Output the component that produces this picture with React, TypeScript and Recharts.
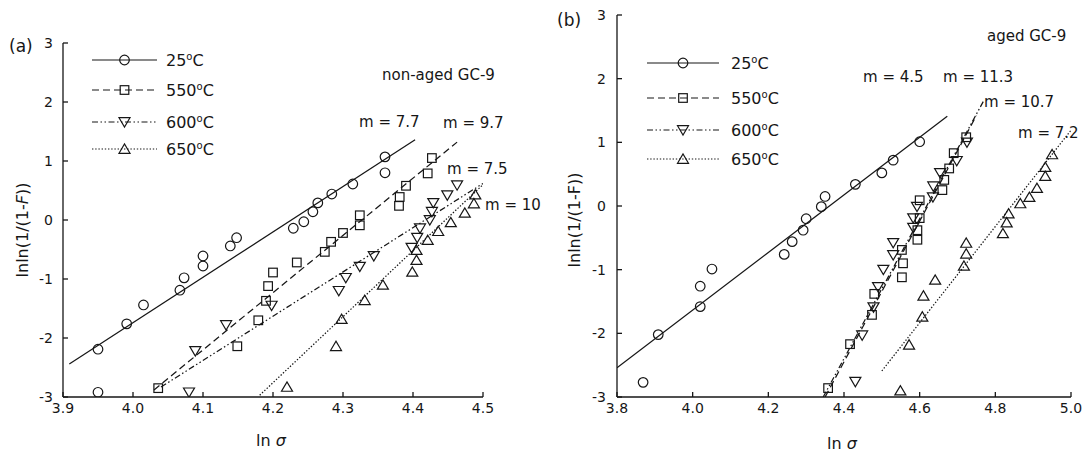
import React from "react";
import { ScatterChart, Scatter, XAxis, YAxis } from "recharts";

const INK = "#161616";
const FONT = "DejaVu Sans, Arial, sans-serif";

type P = [number, number];

/* ── tick values ─────────────────────────────────────────── */
const Y_TICKS = [-3, -2, -1, 0, 1, 2, 3];
const A_X_TICKS = [3.9, 4.0, 4.1, 4.2, 4.3, 4.4, 4.5];
const B_X_TICKS = [3.8, 4.0, 4.2, 4.4, 4.6, 4.8, 5.0];

/* ── (a) non-aged GC-9 : [ln sigma, lnln(1/(1-F))] ─────────── */
const A_25: P[] = [
  [3.95, -2.19], [3.95, -2.92], [3.991, -1.76], [4.015, -1.44], [4.067, -1.19], [4.073, -0.98],
  [4.1, -0.61], [4.1, -0.78], [4.139, -0.44], [4.148, -0.3], [4.229, -0.14], [4.244, -0.03],
  [4.257, 0.14], [4.264, 0.29], [4.284, 0.44], [4.314, 0.61], [4.36, 0.8], [4.36, 1.07],
];
const A_550: P[] = [
  [4.036, -2.85], [4.149, -2.14], [4.179, -1.7], [4.19, -1.37], [4.193, -1.12], [4.2, -0.89],
  [4.234, -0.72], [4.274, -0.54], [4.283, -0.37], [4.3, -0.22], [4.324, -0.09], [4.324, 0.08],
  [4.38, 0.24], [4.381, 0.39], [4.39, 0.58], [4.421, 0.79], [4.427, 1.05],
];
const A_600: P[] = [
  [4.08, -2.92], [4.089, -2.22], [4.133, -1.78], [4.198, -1.45], [4.294, -1.2], [4.304, -0.98],
  [4.324, -0.79], [4.344, -0.61], [4.398, -0.47], [4.406, -0.3], [4.41, -0.14], [4.424, 0.0],
  [4.427, 0.14], [4.429, 0.29], [4.449, 0.42], [4.463, 0.59],
];
const A_650: P[] = [
  [4.22, -2.83], [4.29, -2.14], [4.298, -1.68], [4.331, -1.36], [4.357, -1.1], [4.399, -0.88],
  [4.405, -0.68], [4.405, -0.51], [4.421, -0.34], [4.436, -0.19], [4.454, -0.04], [4.474, 0.12],
  [4.487, 0.28], [4.489, 0.43],
];
// fitted Weibull lines (end points)
const A_FIT_25: P[] = [[3.909, -2.44], [4.403, 1.36]];
const A_FIT_550: P[] = [[4.03, -2.88], [4.463, 1.32]];
const A_FIT_600: P[] = [[4.04, -2.83], [4.5, 0.62]];
const A_FIT_650: P[] = [[4.181, -2.97], [4.5, 0.6]];

/* ── (b) aged GC-9 ───────────────────────────────────────── */
const B_25: P[] = [
  [3.869, -2.77], [3.909, -2.02], [4.02, -1.58], [4.02, -1.26], [4.051, -0.99], [4.242, -0.76],
  [4.263, -0.56], [4.292, -0.38], [4.3, -0.2], [4.34, -0.01], [4.35, 0.15], [4.43, 0.34],
  [4.5, 0.52], [4.53, 0.72], [4.6, 1.01],
];
const B_550: P[] = [
  [4.358, -2.86], [4.416, -2.17], [4.474, -1.71], [4.48, -1.38], [4.553, -1.12], [4.556, -0.9],
  [4.553, -0.69], [4.594, -0.53], [4.594, -0.38], [4.6, -0.19], [4.6, 0.09], [4.66, 0.25],
  [4.665, 0.41], [4.678, 0.59], [4.69, 0.83], [4.723, 1.08],
];
const B_600: P[] = [
  [4.43, -2.76], [4.448, -2.03], [4.478, -1.59], [4.49, -1.27], [4.504, -1.0], [4.53, -0.77],
  [4.53, -0.58], [4.583, -0.34], [4.583, -0.19], [4.593, -0.01], [4.635, 0.14], [4.636, 0.31],
  [4.654, 0.52], [4.698, 0.71], [4.725, 1.0],
];
const B_650: P[] = [
  [4.549, -2.9], [4.572, -2.18], [4.607, -1.74], [4.61, -1.41], [4.641, -1.16], [4.717, -0.94],
  [4.723, -0.75], [4.723, -0.58], [4.82, -0.43], [4.83, -0.26], [4.835, -0.12], [4.866, 0.04],
  [4.89, 0.14], [4.91, 0.28], [4.932, 0.47], [4.932, 0.61], [4.95, 0.81],
];
const B_FIT_25: P[] = [[3.8, -2.54], [4.673, 1.41]];
const B_FIT_550: P[] = [[4.35, -3.0], [4.75, 1.42]];
const B_FIT_600: P[] = [[4.345, -3.0], [4.768, 1.64]];
const B_FIT_650: P[] = [[4.5, -2.59], [5.0, 1.19]];

const TEMPS = ["25", "550", "600", "650"];

/* ── series styling ──────────────────────────────────────── */
type Kind = "circle" | "square" | "down" | "up";
const STYLE: { kind: Kind; dash?: string }[] = [
  { kind: "circle" },
  { kind: "square", dash: "7 4" },
  { kind: "down", dash: "6 2.5 1.5 2.5 1.5 2.5" },
  { kind: "up", dash: "1.4 1.8" },
];

const pts = (a: P[]) => a.map(([x, y]) => ({ x, y }));

function Mark({ cx, cy, kind }: { cx: number; cy: number; kind: Kind }) {
  const s = { fill: "none", stroke: INK, strokeWidth: 1.2 };
  if (kind === "circle") return <circle cx={cx} cy={cy} r={4.8} {...s} />;
  if (kind === "square") return <rect x={cx - 4.3} y={cy - 4.3} width={8.6} height={8.6} {...s} />;
  if (kind === "down")
    return <path d={`M${cx - 5.5},${cy - 4.3}L${cx + 5.5},${cy - 4.3}L${cx},${cy + 5}Z`} {...s} />;
  return <path d={`M${cx - 5.5},${cy + 4.3}L${cx + 5.5},${cy + 4.3}L${cx},${cy - 5}Z`} {...s} />;
}

const TICK = { fill: INK, fontSize: 14, fontFamily: FONT } as const;

function Panel({
  left, width, margin, xDomain, xTicks, groups, fits, yTickMargin,
}: {
  left: number; width: number;
  margin: { top: number; right: number; bottom: number; left: number };
  xDomain: [number, number]; xTicks: number[];
  groups: P[][]; fits: P[][]; yTickMargin: number;
}) {
  return (
    <div style={{ position: "absolute", left, top: 0 }}>
      <ScatterChart width={width} height={453} margin={margin}>
        <XAxis
          type="number" dataKey="x" domain={xDomain} ticks={xTicks} interval={0} allowDataOverflow
          height={40} stroke={INK} strokeWidth={1.3} tickSize={-5} tickMargin={11} tick={TICK}
          tickFormatter={(v: number) => v.toFixed(1)}
        />
        <YAxis
          type="number" dataKey="y" domain={[-3, 3]} ticks={Y_TICKS} interval={0} allowDataOverflow
          width={50} stroke={INK} strokeWidth={1.3} tickSize={-5} tickMargin={yTickMargin} tick={TICK}
        />
        {fits.map((f, i) => (
          <Scatter
            key={`fit${i}`} data={pts(f)} isAnimationActive={false} legendType="none"
            line={{ stroke: INK, strokeWidth: 1.25, strokeDasharray: STYLE[i].dash }}
            shape={() => <g />}
          />
        ))}
        {groups.map((g, i) => (
          <Scatter
            key={`pts${i}`} name={`${TEMPS[i]}°C`} data={pts(g)} isAnimationActive={false}
            shape={(p: any) => <Mark cx={p.cx} cy={p.cy} kind={STYLE[i].kind} />}
          />
        ))}
      </ScatterChart>
    </div>
  );
}

function Deg({ t }: { t: string }) {
  return (
    <>
      {t}
      <tspan dy={-6} fontSize={10}>o</tspan>
      <tspan dy={6}>C</tspan>
    </>
  );
}

function FigLegend({ x1, x2, tx, rows }: { x1: number; x2: number; tx: number; rows: number[] }) {
  const mx = (x1 + x2) / 2;
  return (
    <g>
      {TEMPS.map((t, i) => (
        <g key={t}>
          <line x1={x1} x2={x2} y1={rows[i]} y2={rows[i]} stroke={INK} strokeWidth={1.2} strokeDasharray={STYLE[i].dash} />
          <Mark cx={mx} cy={rows[i]} kind={STYLE[i].kind} />
          <text x={tx} y={rows[i] + 6} fontSize={16} fontFamily={FONT} fill={INK}>
            <Deg t={t} />
          </text>
        </g>
      ))}
    </g>
  );
}

function Overlay() {
  const txt = { fontFamily: FONT, fill: INK } as const;
  return (
    <svg width={1088} height={453} style={{ position: "absolute", left: 0, top: 0, pointerEvents: "none" }}>
      {/* panel (a) */}
      <text x={9} y={52} fontSize={17} {...txt}>(a)</text>
      <FigLegend x1={92} x2={157} tx={166} rows={[60, 90, 122, 149]} />
      <text x={382} y={80} fontSize={15} {...txt}>non-aged GC-9</text>
      <text x={359} y={127} fontSize={15} {...txt}>m = 7.7</text>
      <text x={443} y={128} fontSize={15} {...txt}>m = 9.7</text>
      <text x={447} y={174} fontSize={15} {...txt}>m = 7.5</text>
      <text x={485} y={210} fontSize={15} {...txt}>m = 10</text>
      <text transform="translate(28,230) rotate(-90)" textAnchor="middle" fontSize={16} {...txt}>
        lnln(1/(1-<tspan fontStyle="italic">F</tspan>))
      </text>
      <text x={271} y={446} textAnchor="middle" fontSize={16} {...txt}>
        ln <tspan fontStyle="italic">σ</tspan>
      </text>

      {/* panel (b) */}
      <text x={557} y={26} fontSize={17} {...txt}>(b)</text>
      <FigLegend x1={647} x2={719} tx={731} rows={[63, 98, 130, 159]} />
      <text x={987} y={41} fontSize={15} {...txt}>aged GC-9</text>
      <text x={863} y={82} fontSize={15} {...txt}>m = 4.5</text>
      <text x={943} y={82} fontSize={15} {...txt}>m = 11.3</text>
      <text x={984} y={107} fontSize={15} {...txt}>m = 10.7</text>
      <text x={1018} y={138} fontSize={15} {...txt}>m = 7.2</text>
      <text transform="translate(580,220) rotate(-90)" textAnchor="middle" fontSize={16} {...txt}>
        lnln(1/(1-F))
      </text>
      <text x={842} y={449} textAnchor="middle" fontSize={16} {...txt}>
        ln <tspan fontStyle="italic">σ</tspan>
      </text>
    </svg>
  );
}

export default function App() {
  return (
    <div style={{ position: "absolute", left: 0, top: 0, width: 1088, height: 453, background: "#fff" }}>
      <Panel
        left={0} width={500} margin={{ top: 43, right: 17, bottom: 16, left: 13 }}
        xDomain={[3.9, 4.5]} xTicks={A_X_TICKS} yTickMargin={15}
        groups={[A_25, A_550, A_600, A_650]} fits={[A_FIT_25, A_FIT_550, A_FIT_600, A_FIT_650]}
      />
      <Panel
        left={540} width={548} margin={{ top: 15, right: 17, bottom: 16, left: 27 }}
        xDomain={[3.8, 5.0]} xTicks={B_X_TICKS} yTickMargin={16}
        groups={[B_25, B_550, B_600, B_650]} fits={[B_FIT_25, B_FIT_550, B_FIT_600, B_FIT_650]}
      />
      <Overlay />
    </div>
  );
}
